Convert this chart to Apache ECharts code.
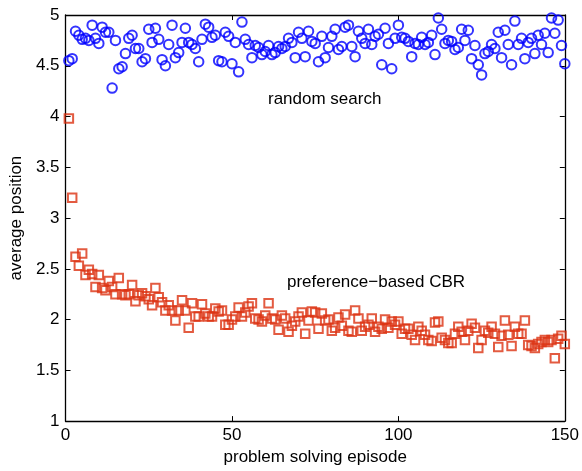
<!DOCTYPE html>
<html>
<head>
<meta charset="utf-8">
<script src="https://cdn.jsdelivr.net/npm/echarts@6/dist/echarts.min.js"></script>
<style>
html,body{margin:0;padding:0;background:#fff;}
#chart{width:582px;height:471px;}
</style>
</head>
<body>
<div id="chart"></div>
<script>
const xTicks = [0, 50, 100, 150];
const yTicks = [1, 1.5, 2, 2.5, 3, 3.5, 4, 4.5, 5];

const randomSearch = [
  4.55, 4.57, 4.84, 4.80, 4.76, 4.77, 4.75, 4.90, 4.77, 4.72, 4.88, 4.83, 4.83, 4.28, 4.75, 4.47, 4.49, 4.62, 4.77, 4.80,
  4.67, 4.67, 4.54, 4.57, 4.86, 4.73, 4.87, 4.76, 4.56, 4.50, 4.71, 4.90, 4.58, 4.63, 4.73, 4.87,
  4.73, 4.71, 4.67, 4.54, 4.76, 4.91, 4.88, 4.78, 4.80, 4.55, 4.54, 4.83, 4.79, 4.52, 4.73, 4.44, 4.93, 4.76, 4.71, 4.58,
  4.70, 4.68, 4.61, 4.64, 4.70, 4.61, 4.63, 4.69, 4.67, 4.69, 4.77, 4.73, 4.58, 4.83, 4.77, 4.59, 4.84, 4.74,
  4.72, 4.54, 4.79, 4.58, 4.68, 4.79, 4.86, 4.66, 4.69, 4.88, 4.90, 4.69, 4.59, 4.84, 4.77, 4.72, 4.86, 4.71, 4.79, 4.81,
  4.51, 4.87, 4.72, 4.47, 4.77, 4.90, 4.78, 4.77, 4.74, 4.59, 4.72, 4.71, 4.78, 4.71, 4.73, 4.80, 4.61, 4.97, 4.86,
  4.72, 4.75, 4.74, 4.66, 4.68, 4.86, 4.75, 4.85, 4.57, 4.70, 4.51, 4.41, 4.62, 4.64, 4.71, 4.67, 4.83, 4.58, 4.85, 4.71,
  4.51, 4.94, 4.71, 4.77, 4.57, 4.73, 4.77, 4.62, 4.80, 4.71, 4.82, 4.63, 4.97, 4.82, 4.95, 4.70, 4.52
];

const preferenceCBR = [
  3.98, 3.20, 2.62, 2.53, 2.65, 2.44, 2.49, 2.45, 2.32, 2.44, 2.31, 2.29, 2.38, 2.32, 2.25, 2.41, 2.25, 2.24, 2.25, 2.34,
  2.18, 2.24, 2.26, 2.23, 2.20, 2.14, 2.31, 2.22, 2.17, 2.09, 2.14, 2.09, 1.99, 2.09, 2.19,
  2.09, 1.92, 2.16, 2.03, 2.03, 2.15, 2.06, 2.03, 2.03, 2.11, 2.08, 2.09, 1.95, 1.95, 2.00, 2.03, 2.12, 2.03, 2.07, 2.13,
  2.16, 2.01, 2.00, 1.98, 2.04, 2.16, 2.01, 2.00, 1.90, 2.04, 2.01, 1.88, 1.94, 1.98, 2.03, 2.07, 1.86, 1.99,
  2.08, 2.07, 1.91, 2.06, 1.99, 2.00, 1.89, 1.92, 2.02, 1.94, 2.05, 1.89, 1.88, 2.09, 2.01, 1.89, 1.93, 1.95, 2.01, 1.88,
  1.93, 1.91, 2.00, 1.92, 1.98, 1.95, 1.98, 1.86, 1.91, 1.91, 1.85, 1.80, 1.93, 1.89, 1.85, 1.80, 1.79, 1.97,
  1.98, 1.82, 1.80, 1.77, 1.77, 1.86, 1.93, 1.88, 1.80, 1.89, 1.96, 1.92, 1.72, 1.80, 1.89, 1.87, 1.93, 1.86, 1.73, 1.84,
  1.99, 1.85, 1.74, 1.93, 1.86, 1.86, 1.99, 1.75, 1.74, 1.72, 1.76, 1.78, 1.80, 1.78, 1.80, 1.62, 1.81, 1.84, 1.76
];

const seriesNames = ['random search', 'preference\u2212based CBR'];
const xTitle = 'problem solving episode';
const yTitle = 'average position';

const FONT = '"Liberation Sans", Arial, Helvetica, sans-serif';
const chart = echarts.init(document.getElementById('chart'), null, {renderer: 'canvas'});

const toPairs = arr => arr.map((v, i) => [i + 1, v]);

const axisLine = {show: true, onZero: false, lineStyle: {color: '#000', width: 1.3}};
const tickIn = {show: true, inside: true, length: 5, lineStyle: {color: '#000', width: 1}};

chart.setOption({
  animation: false,
  backgroundColor: '#fff',
  grid: {left: 64, right: 15, top: 15, bottom: 46, containLabel: false},
  xAxis: [
    {
      type: 'value', min: 0, max: 150, interval: 50, position: 'bottom',
      axisLine: axisLine, axisTick: tickIn, splitLine: {show: false},
      axisLabel: {color: '#000', fontSize: 17, fontFamily: FONT, margin: 6,
        formatter: v => xTicks.includes(v) ? String(v) : ''},
      name: xTitle, nameLocation: 'middle', nameGap: 26,
      nameTextStyle: {color: '#000', fontSize: 17, fontFamily: FONT}
    },
    {
      type: 'value', min: 0, max: 150, interval: 50, position: 'top',
      axisLine: axisLine, axisTick: tickIn, axisLabel: {show: false}, splitLine: {show: false}
    }
  ],
  yAxis: [
    {
      type: 'value', min: 1, max: 5, interval: 0.5, position: 'left',
      axisLine: axisLine, axisTick: tickIn, splitLine: {show: false},
      axisLabel: {color: '#000', fontSize: 17, fontFamily: FONT, margin: 6,
        formatter: v => yTicks.includes(v) ? String(v) : ''},
      name: yTitle, nameLocation: 'middle', nameGap: 40, nameRotate: 90,
      nameTextStyle: {color: '#000', fontSize: 17, fontFamily: FONT}
    },
    {
      type: 'value', min: 1, max: 5, interval: 0.5, position: 'right',
      axisLine: axisLine, axisTick: tickIn, axisLabel: {show: false}, splitLine: {show: false}
    }
  ],
  series: [
    {
      name: seriesNames[0], type: 'scatter', data: toPairs(randomSearch),
      symbol: 'circle', symbolSize: 9.5,
      itemStyle: {color: 'rgba(0,0,0,0)', borderColor: '#0000ff', borderWidth: 2}
    },
    {
      name: seriesNames[1], type: 'scatter', data: toPairs(preferenceCBR),
      symbol: 'rect', symbolSize: 8.5,
      itemStyle: {color: 'rgba(0,0,0,0)', borderColor: '#dc3212', borderWidth: 2}
    }
  ],
  graphic: [
    {type: 'text', left: 268, top: 91,
      style: {text: seriesNames[0], fill: '#000', font: '17px ' + FONT}},
    {type: 'text', left: 287, top: 274,
      style: {text: seriesNames[1], fill: '#000', font: '17px ' + FONT}}
  ]
});
</script>
</body>
</html>
